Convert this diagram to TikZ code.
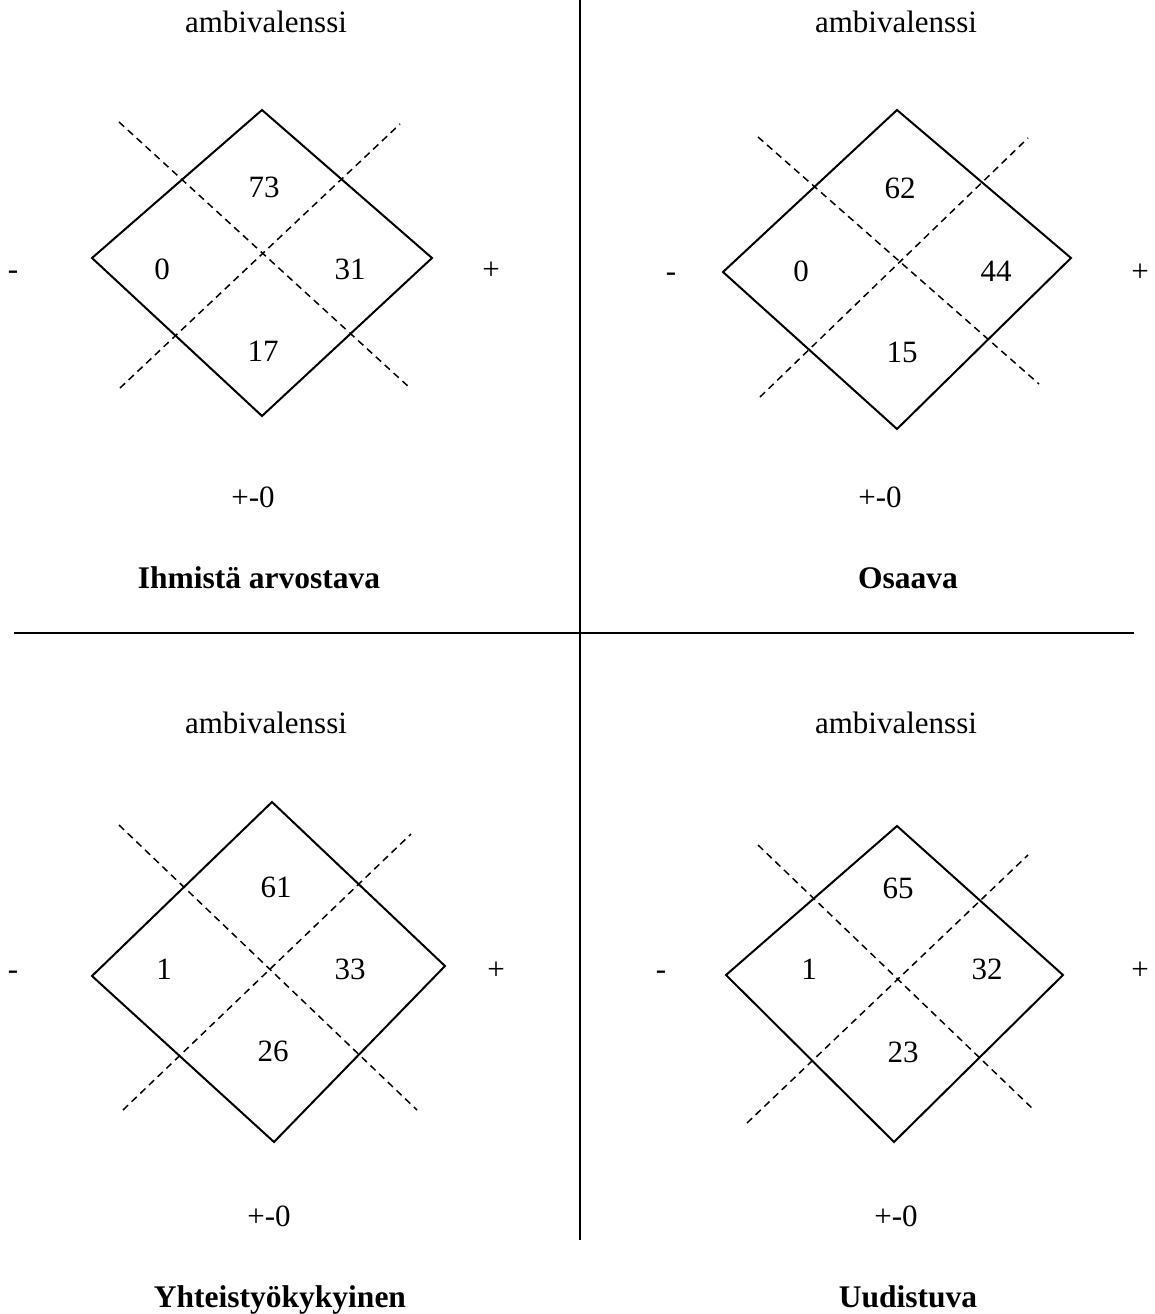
\documentclass[tikz,border=0pt]{standalone}
\usepackage{fontspec}
\setmainfont{Liberation Serif}
\begin{document}
\begin{tikzpicture}[x=1pt,y=-1pt,
  lbl/.style={anchor=base, inner sep=0pt, font=\fontsize{31}{37}\selectfont},
  ttl/.style={anchor=base, inner sep=0pt, font=\fontsize{31.5}{37}\selectfont\bfseries},
  dia/.style={line width=2pt, line join=miter},
  dsh/.style={line width=1.5pt, dash pattern=on 7pt off 5pt},
  divider/.style={line width=2pt}]
\useasboundingbox (0,0) rectangle (1154,1314);

% dividers
\coordinate (vt) at (580,0);
\coordinate (vb) at (580,1240);
\coordinate (hl) at (14,633);
\coordinate (hr) at (1134,633);
\draw[divider] (vt) -- (vb);
\draw[divider] (hl) -- (hr);

% ---------- Panel 1 ----------
\coordinate (t1) at (262,110);
\coordinate (r1) at (432,258);
\coordinate (b1) at (262,416);
\coordinate (l1) at (92,258);
\draw[dia] (t1) -- (r1) -- (b1) -- (l1) -- cycle;
\coordinate (p1a) at (119,122);
\coordinate (p1b) at (410,388);
\coordinate (p1c) at (120,388);
\coordinate (p1d) at (400,124);
\draw[dsh] (p1a) -- (p1b);
\draw[dsh] (p1c) -- (p1d);
\node[lbl] (amb1) at (266,33) {ambivalenssi};
\node[lbl] (top1) at (264,197) {73};
\node[lbl] (lft1) at (162,279.5) {0};
\node[lbl] (rgt1) at (350,279.5) {31};
\node[lbl] (bot1) at (263,361) {17};
\node[lbl] (min1) at (13,279.5) {-};
\node[lbl] (pls1) at (491,279.5) {+};
\node[lbl] (neu1) at (253,507.5) {+-0};
\node[ttl] (ttl1) at (259,588) {Ihmistä arvostava};

% ---------- Panel 2 ----------
\coordinate (t2) at (897,110);
\coordinate (r2) at (1071,258);
\coordinate (b2) at (897,429);
\coordinate (l2) at (723,272);
\draw[dia] (t2) -- (r2) -- (b2) -- (l2) -- cycle;
\coordinate (p2a) at (758,137);
\coordinate (p2b) at (1039,384);
\coordinate (p2c) at (760,397);
\coordinate (p2d) at (1028,138);
\draw[dsh] (p2a) -- (p2b);
\draw[dsh] (p2c) -- (p2d);
\node[lbl] (amb2) at (896,33) {ambivalenssi};
\node[lbl] (top2) at (900,198.5) {62};
\node[lbl] (lft2) at (801,281) {0};
\node[lbl] (rgt2) at (996,281) {44};
\node[lbl] (bot2) at (902,362.5) {15};
\node[lbl] (min2) at (671,281) {-};
\node[lbl] (pls2) at (1140,281) {+};
\node[lbl] (neu2) at (880,507.5) {+-0};
\node[ttl] (ttl2) at (908,588) {Osaava};

% ---------- Panel 3 ----------
\coordinate (t3) at (272,802);
\coordinate (r3) at (445,966);
\coordinate (b3) at (274,1142);
\coordinate (l3) at (92,976);
\draw[dia] (t3) -- (r3) -- (b3) -- (l3) -- cycle;
\coordinate (p3a) at (119,825);
\coordinate (p3b) at (417,1110);
\coordinate (p3c) at (123,1110);
\coordinate (p3d) at (411,834);
\draw[dsh] (p3a) -- (p3b);
\draw[dsh] (p3c) -- (p3d);
\node[lbl] (amb3) at (266,733.5) {ambivalenssi};
\node[lbl] (top3) at (276,897.5) {61};
\node[lbl] (lft3) at (164,979.5) {1};
\node[lbl] (rgt3) at (350,979.5) {33};
\node[lbl] (bot3) at (273,1061) {26};
\node[lbl] (min3) at (13,979.5) {-};
\node[lbl] (pls3) at (496,979.5) {+};
\node[lbl] (neu3) at (269,1226.5) {+-0};
\node[ttl] (ttl3) at (280,1307.5) {Yhteistyökykyinen};

% ---------- Panel 4 ----------
\coordinate (t4) at (897,826);
\coordinate (r4) at (1063,975);
\coordinate (b4) at (894,1142);
\coordinate (l4) at (726,975);
\draw[dia] (t4) -- (r4) -- (b4) -- (l4) -- cycle;
\coordinate (p4a) at (758,845);
\coordinate (p4b) at (1034,1110);
\coordinate (p4c) at (747,1123);
\coordinate (p4d) at (1028,855);
\draw[dsh] (p4a) -- (p4b);
\draw[dsh] (p4c) -- (p4d);
\node[lbl] (amb4) at (896,733.5) {ambivalenssi};
\node[lbl] (top4) at (898,898.5) {65};
\node[lbl] (lft4) at (809,979.5) {1};
\node[lbl] (rgt4) at (987,979.5) {32};
\node[lbl] (bot4) at (903,1062) {23};
\node[lbl] (min4) at (661,979.5) {-};
\node[lbl] (pls4) at (1140,979.5) {+};
\node[lbl] (neu4) at (896,1226.5) {+-0};
\node[ttl] (ttl4) at (908,1307.5) {Uudistuva};
\end{tikzpicture}
\end{document}
